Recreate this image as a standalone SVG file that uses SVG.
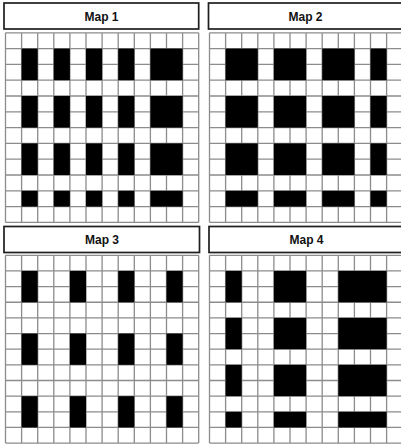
<svg xmlns="http://www.w3.org/2000/svg" width="401" height="447" viewBox="0 0 401 447">
<style>
.hdr{fill:#fff;stroke:#1e1e1e;stroke-width:1.7}
.ttl{font-family:"Liberation Sans",Arial,sans-serif;font-weight:bold;font-size:12px;fill:#111;text-anchor:middle}
.grid{fill:none;stroke:#8c8c8c;stroke-width:1.3}
.blk{fill:#000}
</style>
<defs>
<path id="gridA" class="grid" d="M0 0V189.6M16.1 0V189.6M32.2 0V189.6M48.3 0V189.6M64.4 0V189.6M80.5 0V189.6M96.6 0V189.6M112.7 0V189.6M128.8 0V189.6M144.9 0V189.6M161 0V189.6M177.1 0V189.6M193.2 0V189.6M0 0H193.2M0 15.8H193.2M0 31.6H193.2M0 47.4H193.2M0 63.2H193.2M0 79H193.2M0 94.8H193.2M0 110.6H193.2M0 126.4H193.2M0 142.2H193.2M0 158H193.2M0 173.8H193.2M0 189.6H193.2"/>
<path id="gridB" class="grid" d="M0 0V187.8M16.1 0V187.8M32.2 0V187.8M48.3 0V187.8M64.4 0V187.8M80.5 0V187.8M96.6 0V187.8M112.7 0V187.8M128.8 0V187.8M144.9 0V187.8M161 0V187.8M177.1 0V187.8M193.2 0V187.8M0 0H193.2M0 15.65H193.2M0 31.3H193.2M0 46.95H193.2M0 62.6H193.2M0 78.25H193.2M0 93.9H193.2M0 109.55H193.2M0 125.2H193.2M0 140.85H193.2M0 156.5H193.2M0 172.15H193.2M0 187.8H193.2"/>
</defs>
<rect width="401" height="447" fill="#fff"/>

<g id="map1">
<rect class="hdr" x="4" y="3" width="194.7" height="26"/>
<text class="ttl" x="101.5" y="20.7">Map 1</text>
<g transform="translate(5.5 32.8)">
<use href="#gridA"/>
<g class="blk">
<rect x="16.1" y="15.8" width="16.1" height="31.6"/><rect x="48.3" y="15.8" width="16.1" height="31.6"/><rect x="80.5" y="15.8" width="16.1" height="31.6"/><rect x="112.7" y="15.8" width="16.1" height="31.6"/><rect x="144.9" y="15.8" width="32.2" height="31.6"/>
<rect x="16.1" y="63.2" width="16.1" height="31.6"/><rect x="48.3" y="63.2" width="16.1" height="31.6"/><rect x="80.5" y="63.2" width="16.1" height="31.6"/><rect x="112.7" y="63.2" width="16.1" height="31.6"/><rect x="144.9" y="63.2" width="32.2" height="31.6"/>
<rect x="16.1" y="110.6" width="16.1" height="31.6"/><rect x="48.3" y="110.6" width="16.1" height="31.6"/><rect x="80.5" y="110.6" width="16.1" height="31.6"/><rect x="112.7" y="110.6" width="16.1" height="31.6"/><rect x="144.9" y="110.6" width="32.2" height="31.6"/>
<rect x="16.1" y="158" width="16.1" height="15.8"/><rect x="48.3" y="158" width="16.1" height="15.8"/><rect x="80.5" y="158" width="16.1" height="15.8"/><rect x="112.7" y="158" width="16.1" height="15.8"/><rect x="144.9" y="158" width="32.2" height="15.8"/>
</g>
</g>
</g>

<g id="map2">
<rect class="hdr" x="208.5" y="3" width="196" height="26"/>
<text class="ttl" x="305.5" y="20.7">Map 2</text>
<g transform="translate(209.5 32.8)">
<use href="#gridA"/>
<g class="blk">
<rect x="16.1" y="15.8" width="32.2" height="31.6"/><rect x="64.4" y="15.8" width="32.2" height="31.6"/><rect x="112.7" y="15.8" width="32.2" height="31.6"/><rect x="161" y="15.8" width="16.1" height="31.6"/>
<rect x="16.1" y="63.2" width="32.2" height="31.6"/><rect x="64.4" y="63.2" width="32.2" height="31.6"/><rect x="112.7" y="63.2" width="32.2" height="31.6"/><rect x="161" y="63.2" width="16.1" height="31.6"/>
<rect x="16.1" y="110.6" width="32.2" height="31.6"/><rect x="64.4" y="110.6" width="32.2" height="31.6"/><rect x="112.7" y="110.6" width="32.2" height="31.6"/><rect x="161" y="110.6" width="16.1" height="31.6"/>
<rect x="16.1" y="158" width="32.2" height="15.8"/><rect x="64.4" y="158" width="32.2" height="15.8"/><rect x="112.7" y="158" width="32.2" height="15.8"/><rect x="161" y="158" width="16.1" height="15.8"/>
</g>
</g>
</g>

<g id="map3">
<rect class="hdr" x="4" y="226.5" width="195.5" height="26"/>
<text class="ttl" x="102" y="244">Map 3</text>
<g transform="translate(5.5 255.3)">
<use href="#gridB"/>
<g class="blk">
<rect x="16.1" y="15.65" width="16.1" height="31.3"/><rect x="64.4" y="15.65" width="16.1" height="31.3"/><rect x="112.7" y="15.65" width="16.1" height="31.3"/><rect x="161" y="15.65" width="16.1" height="31.3"/>
<rect x="16.1" y="78.25" width="16.1" height="31.3"/><rect x="64.4" y="78.25" width="16.1" height="31.3"/><rect x="112.7" y="78.25" width="16.1" height="31.3"/><rect x="161" y="78.25" width="16.1" height="31.3"/>
<rect x="16.1" y="140.85" width="16.1" height="31.3"/><rect x="64.4" y="140.85" width="16.1" height="31.3"/><rect x="112.7" y="140.85" width="16.1" height="31.3"/><rect x="161" y="140.85" width="16.1" height="31.3"/>
</g>
</g>
</g>

<g id="map4">
<rect class="hdr" x="209" y="226.5" width="196" height="26"/>
<text class="ttl" x="306.5" y="244">Map 4</text>
<g transform="translate(209.5 255.3)">
<use href="#gridB"/>
<g class="blk">
<rect x="16.1" y="15.65" width="16.1" height="31.3"/><rect x="64.4" y="15.65" width="32.2" height="31.3"/><rect x="128.8" y="15.65" width="48.3" height="31.3"/>
<rect x="16.1" y="62.6" width="16.1" height="31.3"/><rect x="64.4" y="62.6" width="32.2" height="31.3"/><rect x="128.8" y="62.6" width="48.3" height="31.3"/>
<rect x="16.1" y="109.55" width="16.1" height="31.3"/><rect x="64.4" y="109.55" width="32.2" height="31.3"/><rect x="128.8" y="109.55" width="48.3" height="31.3"/>
<rect x="16.1" y="156.5" width="16.1" height="15.65"/><rect x="64.4" y="156.5" width="32.2" height="15.65"/><rect x="128.8" y="156.5" width="48.3" height="15.65"/>
</g>
</g>
</g>
</svg>
